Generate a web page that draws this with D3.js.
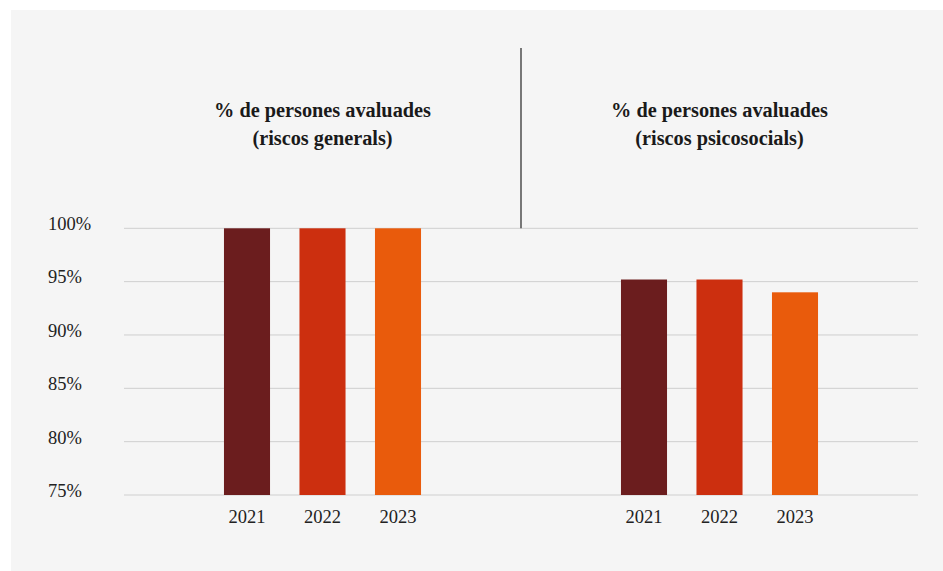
<!DOCTYPE html>
<html><head><meta charset="utf-8">
<script src="https://cdn.jsdelivr.net/npm/d3@7"></script>
<style>
html,body{margin:0;padding:0;background:#fff;}
svg{display:block;}
</style>
</head><body>
<svg id="chart" width="943" height="571"></svg>
<script>
const groups = ["% de persones avaluades\n(riscos generals)", "% de persones avaluades\n(riscos psicosocials)"];
const years = ["2021", "2022", "2023"];
const valuesGenerals = [100, 100, 100];
const valuesPsicosocials = [95.2, 95.2, 94.0];
const yTicks = [75, 80, 85, 90, 95, 100];
const colors = ["#6b1d1e", "#cc2f0f", "#e95b0c"];

const seriesByGroup = [valuesGenerals, valuesPsicosocials];

const svg = d3.select("#chart");
svg.append("rect").attr("x", 11).attr("y", 10).attr("width", 932).attr("height", 561).attr("fill", "#f5f5f5");

const plotL = 124, plotR = 918, plotT = 228.3, plotB = 495;
const y = d3.scaleLinear().domain([75, 100]).range([plotB, plotT]);
const xGroup = d3.scaleBand().domain(groups).range([plotL, plotR]).padding(0);

// gridlines
svg.append("g").selectAll("line").data(yTicks).join("line")
  .attr("x1", plotL).attr("x2", plotR)
  .attr("y1", d => y(d)).attr("y2", d => y(d))
  .attr("stroke", "#cfcfcf").attr("stroke-width", 1);

// y labels
svg.append("g").selectAll("text").data(yTicks).join("text")
  .attr("x", 48).attr("y", d => y(d))
  .attr("dy", "0.1em")
  .attr("font-family", "Liberation Serif, serif")
  .attr("font-size", 18.5)
  .attr("fill", "#222")
  .text(d => d + "%");

// divider
svg.append("line")
  .attr("x1", xGroup(groups[1])).attr("x2", xGroup(groups[1]))
  .attr("y1", 48).attr("y2", y(100))
  .attr("stroke", "#333").attr("stroke-width", 1.3);

const step = 75.5;
groups.forEach((g, gi) => {
  const cx = xGroup(g) + xGroup.bandwidth() / 2;
  const xs = d3.scaleBand().domain(years)
    .range([cx - 1.5 * step, cx + 1.5 * step])
    .paddingInner(0.39).paddingOuter(0.195);
  const vals = seriesByGroup[gi];
  const grp = svg.append("g");
  grp.selectAll("rect").data(years).join("rect")
    .attr("x", d => xs(d)).attr("width", xs.bandwidth())
    .attr("y", (d, i) => y(vals[i]))
    .attr("height", (d, i) => y(75) - y(vals[i]))
    .attr("fill", (d, i) => colors[i]);
  grp.selectAll("text.yr").data(years).join("text")
    .attr("class", "yr")
    .attr("x", d => xs(d) + xs.bandwidth() / 2)
    .attr("y", 523)
    .attr("text-anchor", "middle")
    .attr("font-family", "Liberation Serif, serif")
    .attr("font-size", 18.5)
    .attr("fill", "#222")
    .text(d => d);
  const lines = g.split("\n");
  const t = svg.append("text")
    .attr("text-anchor", "middle")
    .attr("font-family", "Liberation Serif, serif")
    .attr("font-weight", "bold")
    .attr("font-size", 20.3)
    .attr("fill", "#1a1a1a");
  lines.forEach((ln, li) => {
    t.append("tspan").attr("x", cx).attr("y", 117 + li * 28).text(ln);
  });
});
</script>
</body></html>
